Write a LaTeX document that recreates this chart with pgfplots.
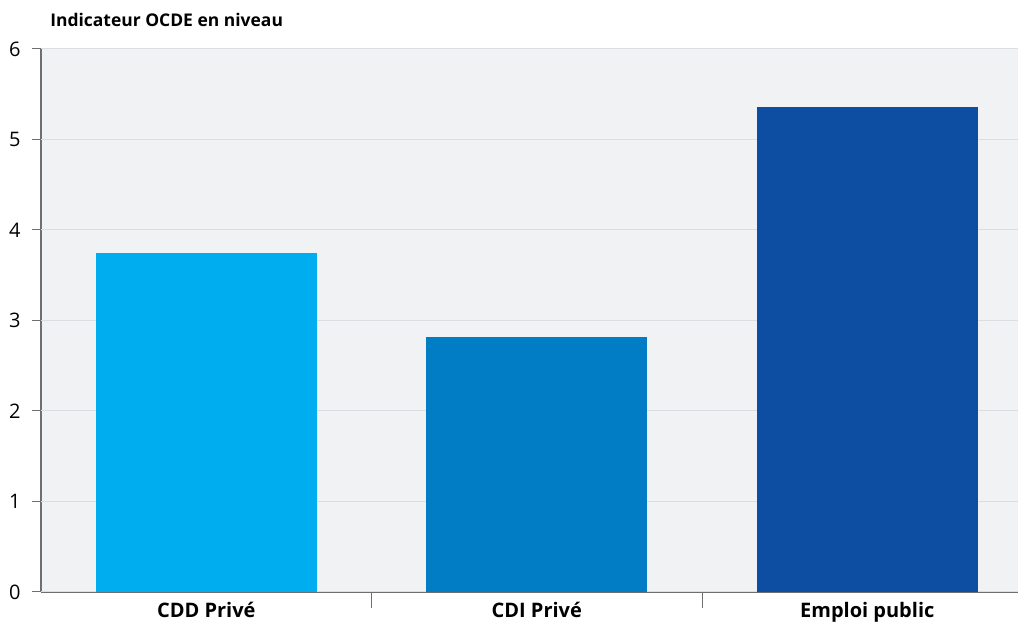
\documentclass[border=0pt]{standalone}
\usepackage{pgfplots}
\pgfplotsset{compat=1.18}
\usepackage{fontspec}
\setmainfont{Open Sans}

\definecolor{plotbg}{HTML}{F1F2F4}
\definecolor{gridc}{HTML}{DCDDE0}
\definecolor{axisc}{HTML}{6F6F6F}
\definecolor{cdd}{HTML}{00AEEF}
\definecolor{cdi}{HTML}{007DC5}
\definecolor{pub}{HTML}{0D4EA2}

\begin{document}
\begin{tikzpicture}
\useasboundingbox (0,0) rectangle (763.5pt,470.25pt);
\node[anchor=base west, inner sep=0pt, font=\fontsize{13.1}{15}\selectfont\bfseries]
  at (37.5pt,450.5pt) {Indicateur OCDE en niveau};
\begin{axis}[
  at={(30.75pt,26.25pt)}, anchor=south west,
  scale only axis, width=732.75pt, height=407.25pt,
  ybar, bar width=165.75pt, bar shift=0pt,
  xmin=-0.5, xmax=2.456, ymin=0, ymax=6,
  axis background/.style={fill=plotbg},
  axis x line=bottom, axis y line=left,
  axis line style={-, draw=axisc, line width=1.5pt},
  tick align=outside,
  % category separators on the x axis
  xtick={0.5,1.5}, xticklabels={},
  major tick length=12pt,
  tick style={draw=axisc, line width=0.75pt},
  % value ticks with grid lines
  ytick=\empty,
  extra y ticks={0,1,2,3,4,5,6},
  extra y tick style={major tick length=6.75pt, grid=major,
    tick style={draw=axisc, line width=0.75pt}},
  grid style={draw=gridc, line width=0.75pt},
  yticklabel style={font=\fontsize{15}{18}\selectfont, anchor=east, xshift=-5pt},
  /pgf/number format/assume math mode=true,
  % category names
  extra x ticks={0,1,2},
  extra x tick labels={CDD Privé, CDI Privé, Emploi public},
  extra x tick style={major tick length=0pt, grid=none, tick style={draw=none},
    xticklabel style={font=\fontsize{15}{18}\selectfont\bfseries, anchor=base, yshift=-19.5pt}},
  clip=false,
]
\addplot[fill=cdd, draw=none] coordinates {(0,3.75)};
\addplot[fill=cdi, draw=none] coordinates {(1,2.82)};
\addplot[fill=pub, draw=none] coordinates {(2,5.36)};
\end{axis}
\end{tikzpicture}
\end{document}
